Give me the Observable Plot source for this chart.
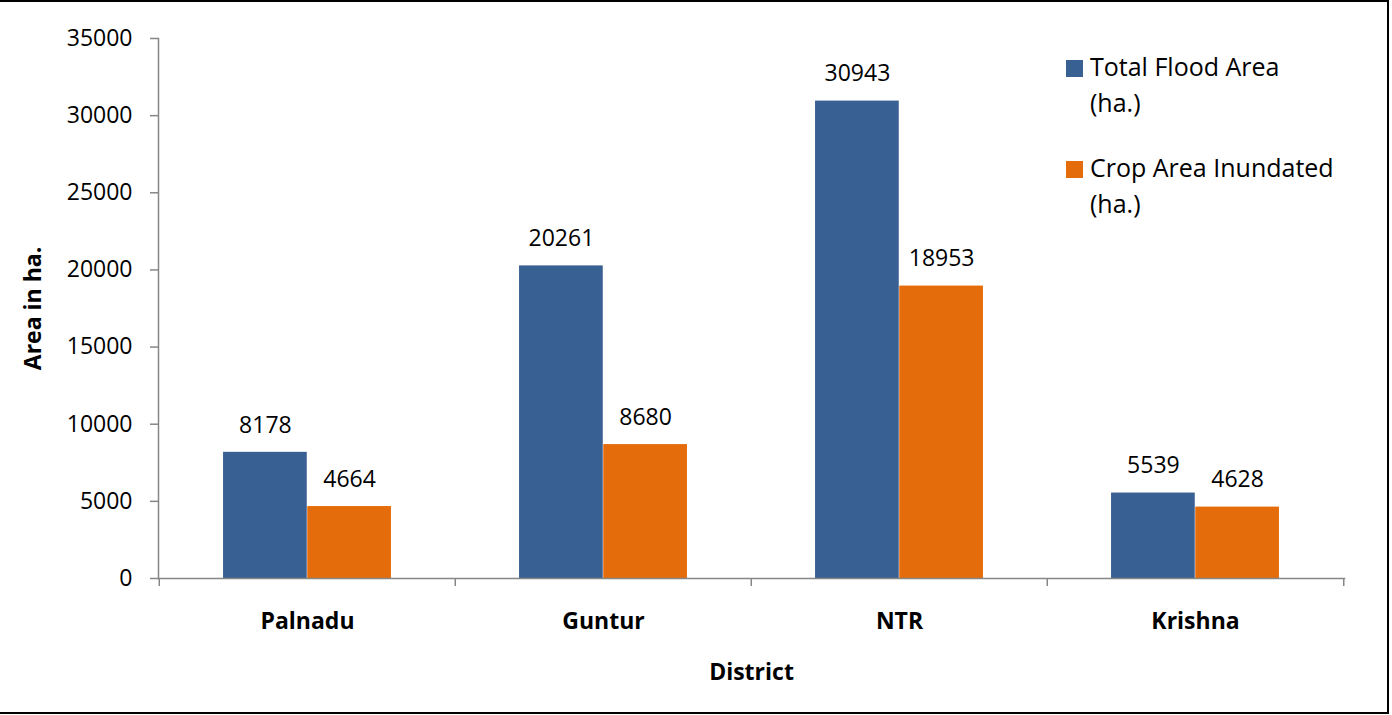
<!DOCTYPE html>
<html>
<head>
<meta charset="utf-8">
<script src="https://cdn.jsdelivr.net/npm/d3@7"></script>
<script src="https://cdn.jsdelivr.net/npm/@observablehq/plot@0.6"></script>
<style>
  html, body { margin: 0; padding: 0; background: #fff; }
  #wrap { position: relative; width: 1392px; height: 715px; overflow: hidden; font-family: "Open Sans", sans-serif; }
  #wrap svg { position: absolute; left: 0; top: 0; }
  #border { position: absolute; left: -4px; top: 0; width: 1393px; height: 714px; box-sizing: border-box;
            border-top: 2px solid #000; border-right: 2px solid #000; border-bottom: 2px solid #000; pointer-events: none; }
  .legend { position: absolute; font-size: 25px; line-height: 35.5px; color: #000; white-space: nowrap; }
  .legend .sw { position: absolute; width: 17px; height: 17px; left: -24px; top: 10.5px; }
</style>
</head>
<body>
<div id="wrap">
  <div id="border"></div>
</div>
<script>
const districts = ["Palnadu", "Guntur", "NTR", "Krishna"];
const totalFlood = [8178, 20261, 30943, 5539];
const cropInundated = [4664, 8680, 18953, 4628];
const seriesNames = ["Total Flood Area (ha.)", "Crop Area Inundated (ha.)"];
const seriesLegendLines = [["Total Flood Area", "(ha.)"], ["Crop Area Inundated", "(ha.)"]];
const seriesColors = ["#386092", "#E46C0A"];
const yTicks = [0, 5000, 10000, 15000, 20000, 25000, 30000, 35000];
const xTitle = "District";
const yTitle = "Area in ha.";

const W = 1392, H = 715;
const mL = 158, mR = 48, mT = 38, mB = 137;
const bw = (W - mL - mR) / districts.length;
const gray = "#868686";

const blue = districts.map((d, i) => ({district: d, value: totalFlood[i], series: seriesNames[0]}));
const orange = districts.map((d, i) => ({district: d, value: cropInundated[i], series: seriesNames[1]}));

const barOff = 0.216 * bw;   // gap between band start and first bar
const half = bw / 2;

const chart = Plot.plot({
  width: W, height: H,
  marginLeft: mL, marginRight: mR, marginTop: mT, marginBottom: mB,
  style: {fontFamily: "Open Sans", fontSize: "23px", color: "#000", background: "transparent"},
  x: {domain: districts, padding: 0, axis: null},
  y: {domain: [0, 35000], axis: null},
  color: {domain: seriesNames, range: seriesColors},
  marks: [
    Plot.barY(blue, {x: "district", y: "value", fill: "series", insetLeft: barOff, insetRight: half}),
    Plot.barY(orange, {x: "district", y: "value", fill: "series", insetLeft: half, insetRight: barOff}),
    Plot.text(blue, {x: "district", y: "value", text: d => String(d.value), dx: -(half - barOff) / 2, dy: -27, fontSize: 23}),
    Plot.text(orange, {x: "district", y: "value", text: d => String(d.value), dx: (half - barOff) / 2, dy: -27, fontSize: 23}),
    Plot.frame({anchor: "left", stroke: gray, strokeWidth: 1.5}),
    Plot.frame({anchor: "bottom", stroke: gray, strokeWidth: 1.5}),
    Plot.ruleX(districts, {x: d => d, dx: -half, y1: 0, y2: 0, insetBottom: -8, stroke: gray, strokeWidth: 1.5}),
    Plot.ruleX(districts.slice(-1), {x: d => d, dx: half, y1: 0, y2: 0, insetBottom: -8, stroke: gray, strokeWidth: 1.5}),
    Plot.axisY({ticks: yTicks, tickSize: 8, tickPadding: 18, tickFormat: d => String(d), stroke: gray, strokeWidth: 1.5, label: null, fontSize: 23}),
    Plot.axisX({tickSize: 0, tickPadding: 34, label: null, fontWeight: "bold", fontSize: 23}),
    Plot.text([xTitle], {frameAnchor: "bottom", dy: 94, lineAnchor: "middle", textAnchor: "middle", text: d => d, fontWeight: "bold", fontSize: 23}),
    Plot.text([yTitle], {frameAnchor: "left", dx: -125, rotate: -90, textAnchor: "middle", lineAnchor: "middle", text: d => d, fontWeight: "bold", fontSize: 23})
  ]
});

const wrap = document.getElementById("wrap");
wrap.insertBefore(chart, wrap.firstChild);

// legend (top-right, inside plot area)
const legendTops = [49, 150];
seriesNames.forEach((s, i) => {
  const div = document.createElement("div");
  div.className = "legend";
  div.style.left = "1090px";
  div.style.top = legendTops[i] + "px";
  const sw = document.createElement("span");
  sw.className = "sw";
  sw.style.background = seriesColors[i];
  div.appendChild(sw);
  seriesLegendLines[i].forEach(line => {
    const l = document.createElement("div");
    l.textContent = line;
    div.appendChild(l);
  });
  wrap.appendChild(div);
});
</script>
</body>
</html>
